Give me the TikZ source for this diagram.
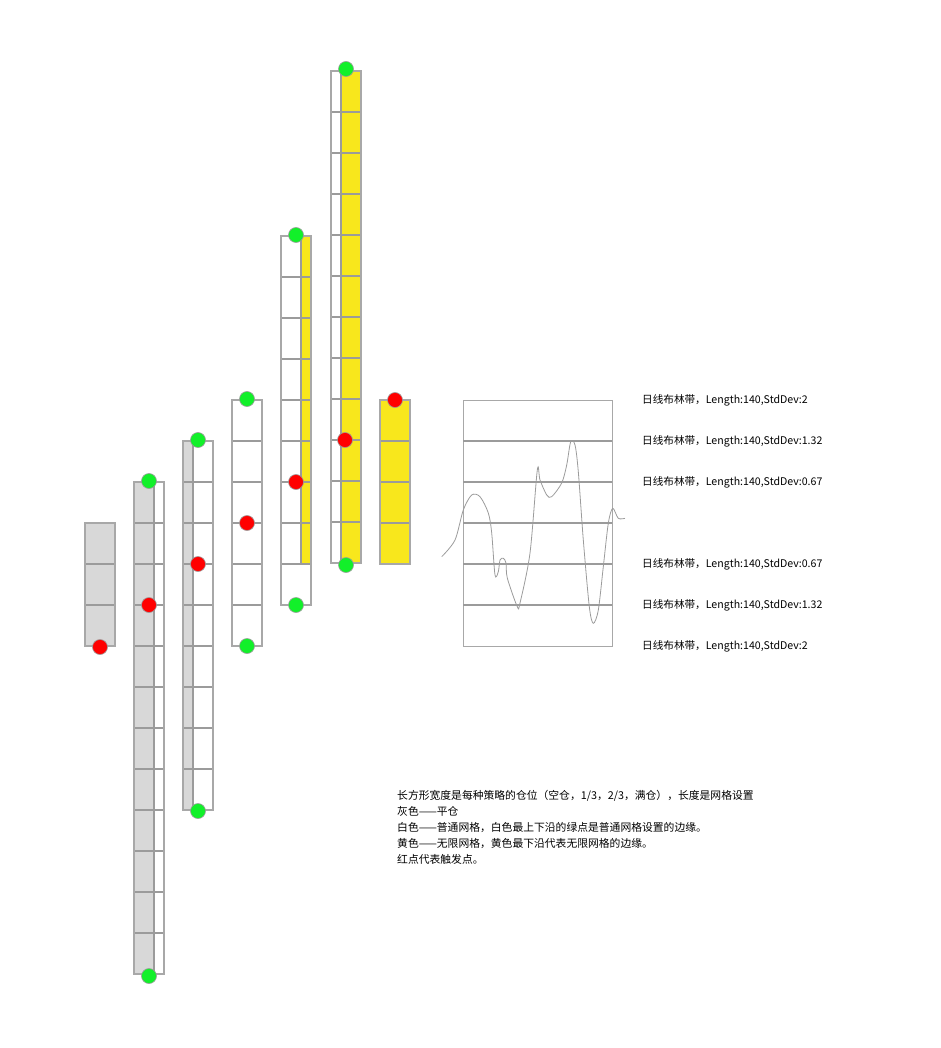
\documentclass[tikz,border=0pt]{standalone}
\usepackage{fontspec}
\setmainfont{Noto Sans CJK SC}
\usepackage{tikz}

\definecolor{flatgray}{HTML}{D8D8D8}
\definecolor{bandyellow}{HTML}{F8E71C}
\definecolor{edgegray}{HTML}{A8A8A8}
\definecolor{linegray}{HTML}{9B9B9B}
\definecolor{hitred}{HTML}{FF0000}
\definecolor{edgegreen}{HTML}{12F02A}

\begin{document}
\begin{tikzpicture}[x=1pt,y=-1pt,
  cellbox/.style={draw=edgegray,line width=1.3pt},
  cellline/.style={draw=linegray,line width=1.8pt},
  grayfill/.style={fill=flatgray,draw=linegray,line width=1.3pt},
  yelfill/.style={fill=bandyellow,draw=linegray,line width=1.3pt},
  dot/.style={circle,draw=linegray,line width=0.6pt,minimum size=15pt,inner sep=0pt},
  lbl/.style={anchor=west,inner sep=0pt,font=\fontsize{10.6}{12}\selectfont}]
\useasboundingbox (0,0) rectangle (940,1048);

% grid columns: left / top / cells / gray width / yellow width / yellow cells
\foreach \x/\t/\n/\g/\yw/\yc in %
{85/523/3/30/0/0,134/482/12/20/0/0,183/441/9/10/0/0,232/400/6/0/0/0,%
281/236/9/0/10/8,331/71/12/0/20/12,380/400/4/0/30/4} {
   \ifnum\g>0 \draw[grayfill] (\x,\t) rectangle +(\g,\n*41); \fi
   \ifnum\yw>0 \draw[yelfill] (\x+30-\yw,\t) rectangle +(\yw,\yc*41); \fi
   \foreach \k in {1,...,\n} {
      \ifnum\k<\n \draw[cellline] (\x,\t+\k*41) -- +(30,0); \fi
   }
   \draw[cellbox] (\x,\t) rectangle +(30,\n*41);
}

% trigger points and grid edges
\foreach \name/\c/\x/\y in %
{r1/hitred/100/647,g2t/edgegreen/149/481,r2/hitred/149/605,g2b/edgegreen/149/976,%
g3t/edgegreen/198/440,r3/hitred/198/564,g3b/edgegreen/198/811,%
g4t/edgegreen/247/399,r4/hitred/247/523,g4b/edgegreen/247/646,%
g5t/edgegreen/296/235,r5/hitred/296/482,g5b/edgegreen/296/605,%
g6t/edgegreen/346/69,r6/hitred/345/440,g6b/edgegreen/346/565,%
r7/hitred/395/400} {
   \node[dot,fill=\c] (\name) at (\x,\y) {};
}

% bollinger band box
\draw[cellbox,line width=1pt] (463,400) rectangle (612,646);
\foreach \y in {441,482,523,564,605} {
   \draw[cellline,line width=1.4pt] (463,\y) -- (612,\y);
}
\draw[linegray,line width=0.8pt] plot[smooth,tension=0.5] coordinates {
(441.7,556.7) (455,540) (463.3,510) (471.7,495) (480,496.7) (488.3,513)
(491.7,533) (495,575) (498.3,571.7) (500,560) (503.3,558.3) (506,563)
(507.3,578) (517.3,606.7) (520,603) (530,553) (537.3,470) (540,480)
(546.7,495) (551.7,496.7) (561.7,483) (566.7,465) (570.7,441.7) (575,445)
(578.3,471.7) (583.3,540) (589.3,606.7) (593.3,623.3) (598.3,610)
(603.3,566.7) (608.3,523.3) (612.7,508.3) (618.3,518.3) (625,518.3)};

\foreach \name/\y/\d in %
{b1/400/2,b2/441/1.32,b3/482/0.67,b4/564/0.67,b5/605/1.32,b6/646/2} {
   \node[lbl] (\name) at (642,\y) {日线布林带，Length:140,StdDev:\d};
}

\node[anchor=north west,inner sep=0pt,align=left,
   font=\fontsize{10.8}{16}\selectfont] (note) at (397,790)
   {长方形宽度是每种策略的仓位（空仓，1/3，2/3，满仓），长度是网格设置\\
    灰色——平仓\\
    白色——普通网格，白色最上下沿的绿点是普通网格设置的边缘。\\
    黄色——无限网格，黄色最下沿代表无限网格的边缘。\\
    红点代表触发点。};
\end{tikzpicture}
\end{document}
